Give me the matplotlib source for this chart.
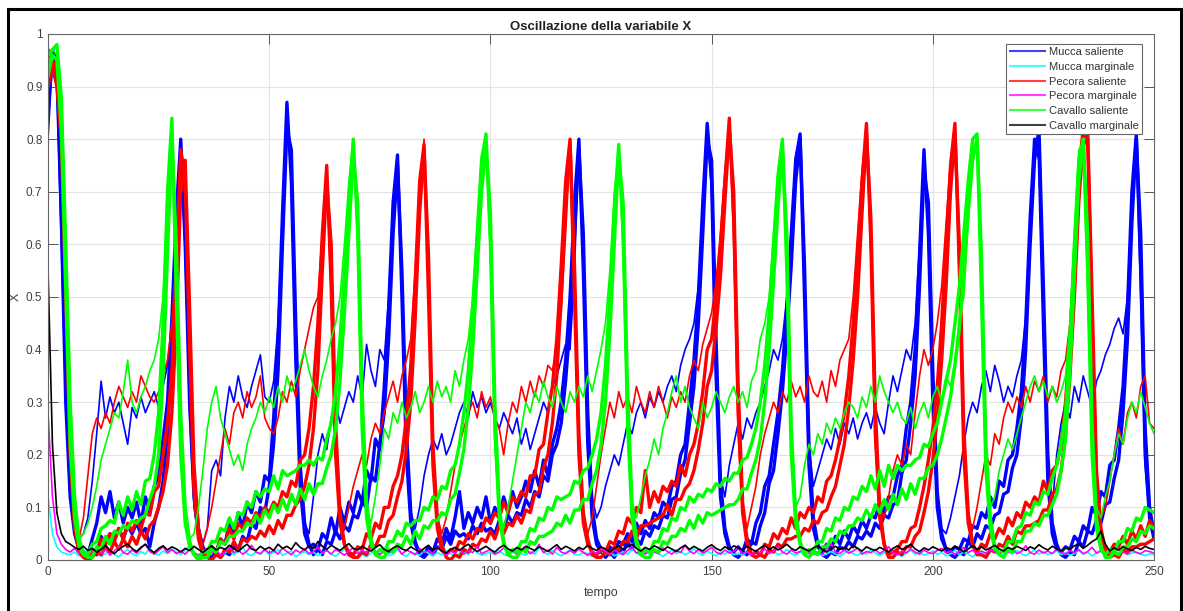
import numpy as np
import matplotlib
matplotlib.use("Agg")
import matplotlib.pyplot as plt
from matplotlib.lines import Line2D
from matplotlib.patches import Rectangle

plt.rcParams['font.family'] = ['Liberation Sans', 'DejaVu Sans']

# valori letti a passo 1 (t = 0..250)
mucca_sal_a = [
    0.93, 0.97, 0.95, 0.72, 0.38, 0.17, 0.07, 0.03, 0.015, 0.01,
    0.04, 0.07, 0.12, 0.09, 0.13, 0.08, 0.11, 0.07, 0.1, 0.08,
    0.11, 0.07, 0.12, 0.09, 0.14, 0.16, 0.23, 0.3, 0.46, 0.66,
    0.8, 0.6, 0.3, 0.12, 0.05, 0.02, 0.01, 0.025, 0.015, 0.04,
    0.03, 0.07, 0.05, 0.09, 0.06, 0.11, 0.09, 0.13, 0.11, 0.16,
    0.15, 0.27, 0.42, 0.66, 0.87, 0.72, 0.38, 0.14, 0.05, 0.025,
    0.03, 0.02, 0.05, 0.04, 0.08, 0.05, 0.1, 0.07, 0.11, 0.09,
    0.13, 0.11, 0.17, 0.15, 0.23, 0.21, 0.33, 0.48, 0.68, 0.77,
    0.5, 0.2, 0.07, 0.03, 0.015, 0.01, 0.025, 0.015, 0.04, 0.03,
    0.06, 0.04, 0.08, 0.13, 0.06, 0.09, 0.07, 0.1, 0.08, 0.12,
    0.07, 0.1, 0.08, 0.12, 0.09, 0.13, 0.1, 0.12, 0.15, 0.13,
    0.17, 0.14, 0.19, 0.16, 0.22, 0.25, 0.3, 0.38, 0.5, 0.68,
    0.8, 0.55, 0.22, 0.08, 0.03, 0.015, 0.01, 0.025, 0.015, 0.035,
    0.03, 0.05, 0.035, 0.07, 0.05, 0.075, 0.06, 0.09, 0.08, 0.11,
    0.1, 0.14, 0.15, 0.2, 0.22, 0.3, 0.38, 0.5, 0.68, 0.83,
    0.72, 0.35, 0.12, 0.05, 0.02, 0.015, 0.025, 0.015, 0.04, 0.03,
    0.07, 0.09, 0.14, 0.16, 0.22, 0.28, 0.36, 0.48, 0.62, 0.76,
    0.81, 0.5, 0.18, 0.06, 0.025, 0.015, 0.03, 0.02, 0.045, 0.03,
    0.055, 0.04, 0.065, 0.05, 0.075, 0.06, 0.085, 0.08, 0.11, 0.09,
    0.12, 0.12, 0.16, 0.18, 0.25, 0.3, 0.4, 0.58, 0.78, 0.62,
    0.3, 0.1, 0.04, 0.02, 0.015, 0.025, 0.02, 0.04, 0.035, 0.065,
    0.06, 0.09, 0.08, 0.12, 0.1, 0.15, 0.14, 0.19, 0.2, 0.25,
    0.32, 0.45, 0.65, 0.8, 0.78, 0.45, 0.15, 0.05, 0.02, 0.015,
    0.025, 0.02, 0.045, 0.035, 0.065, 0.055, 0.1, 0.085, 0.13, 0.12,
    0.18, 0.19, 0.25, 0.33, 0.48, 0.7, 0.81, 0.55, 0.2, 0.08,
    0.04]
mucca_sal_b = [
    0.85, 0.96, 0.93, 0.65, 0.3, 0.12, 0.05, 0.02, 0.01, 0.005,
    0.015, 0.01, 0.045, 0.03, 0.05, 0.04, 0.06, 0.04, 0.065, 0.05,
    0.07, 0.05, 0.06, 0.025, 0.07, 0.1, 0.15, 0.24, 0.4, 0.62,
    0.78, 0.66, 0.36, 0.15, 0.06, 0.025, 0.01, 0.005, 0.015, 0.005,
    0.015, 0.01, 0.025, 0.02, 0.045, 0.035, 0.07, 0.06, 0.1, 0.09,
    0.14, 0.22, 0.36, 0.6, 0.82, 0.78, 0.45, 0.18, 0.07, 0.03,
    0.01, 0.02, 0.01, 0.035, 0.03, 0.055, 0.04, 0.065, 0.055, 0.085,
    0.08, 0.11, 0.1, 0.16, 0.15, 0.22, 0.28, 0.42, 0.62, 0.75,
    0.55, 0.25, 0.09, 0.035, 0.01, 0.005, 0.015, 0.01, 0.025, 0.02,
    0.045, 0.03, 0.055, 0.045, 0.05, 0.04, 0.065, 0.05, 0.07, 0.055,
    0.06, 0.05, 0.075, 0.06, 0.085, 0.07, 0.09, 0.085, 0.115, 0.1,
    0.13, 0.12, 0.16, 0.15, 0.2, 0.22, 0.26, 0.34, 0.45, 0.62,
    0.78, 0.62, 0.28, 0.1, 0.04, 0.02, 0.005, 0.015, 0.005, 0.02,
    0.015, 0.035, 0.02, 0.04, 0.03, 0.055, 0.045, 0.065, 0.06, 0.085,
    0.08, 0.115, 0.12, 0.165, 0.19, 0.26, 0.33, 0.45, 0.62, 0.8,
    0.76, 0.42, 0.15, 0.06, 0.025, 0.01, 0.005, 0.015, 0.01, 0.035,
    0.03, 0.065, 0.09, 0.145, 0.17, 0.24, 0.32, 0.43, 0.56, 0.72,
    0.8, 0.56, 0.22, 0.08, 0.03, 0.01, 0.005, 0.015, 0.01, 0.025,
    0.02, 0.035, 0.025, 0.045, 0.04, 0.055, 0.045, 0.07, 0.06, 0.085,
    0.08, 0.105, 0.11, 0.165, 0.19, 0.26, 0.35, 0.52, 0.74, 0.68,
    0.36, 0.13, 0.05, 0.02, 0.01, 0.005, 0.015, 0.01, 0.035, 0.025,
    0.05, 0.04, 0.065, 0.06, 0.085, 0.09, 0.125, 0.13, 0.175, 0.2,
    0.27, 0.4, 0.6, 0.76, 0.82, 0.52, 0.2, 0.07, 0.03, 0.01,
    0.005, 0.015, 0.01, 0.035, 0.025, 0.055, 0.05, 0.075, 0.07, 0.105,
    0.11, 0.155, 0.19, 0.28, 0.42, 0.64, 0.8, 0.62, 0.25, 0.1,
    0.05]
mucca_sal_c = [
    0.8, 0.95, 0.9, 0.6, 0.3, 0.12, 0.06, 0.04, 0.05, 0.08,
    0.15, 0.24, 0.34, 0.27, 0.31, 0.28, 0.3, 0.26, 0.22, 0.29,
    0.27, 0.31, 0.28, 0.3, 0.32, 0.29, 0.33, 0.37, 0.45, 0.62,
    0.79, 0.58, 0.28, 0.1, 0.04, 0.03, 0.06, 0.17, 0.19, 0.16,
    0.27, 0.33, 0.3, 0.35, 0.31, 0.29, 0.33, 0.36, 0.39, 0.31,
    0.3, 0.34, 0.45, 0.65, 0.84, 0.74, 0.4, 0.15, 0.07, 0.05,
    0.12, 0.2, 0.24, 0.21, 0.27, 0.3, 0.26, 0.29, 0.32, 0.3,
    0.35, 0.31, 0.41, 0.36, 0.33, 0.4, 0.38, 0.5, 0.66, 0.76,
    0.52, 0.22, 0.09, 0.06, 0.1, 0.16, 0.2, 0.23, 0.21, 0.24,
    0.2, 0.22, 0.25, 0.28, 0.3, 0.27, 0.32, 0.29, 0.31, 0.28,
    0.3, 0.27, 0.25, 0.28, 0.26, 0.24, 0.27, 0.22, 0.25, 0.21,
    0.24, 0.27, 0.3, 0.28, 0.33, 0.35, 0.38, 0.41, 0.4, 0.55,
    0.79, 0.56, 0.25, 0.12, 0.08, 0.1, 0.14, 0.17, 0.2, 0.18,
    0.22, 0.26, 0.24, 0.28, 0.3, 0.27, 0.31, 0.29, 0.32, 0.3,
    0.33, 0.35, 0.32, 0.37, 0.4, 0.42, 0.45, 0.52, 0.66, 0.82,
    0.7, 0.36, 0.16, 0.12, 0.18, 0.22, 0.26, 0.23, 0.27, 0.25,
    0.28, 0.3, 0.33, 0.36, 0.4, 0.38, 0.42, 0.5, 0.62, 0.77,
    0.8, 0.52, 0.22, 0.14, 0.17, 0.2, 0.23, 0.21, 0.25, 0.22,
    0.26, 0.24, 0.27, 0.23, 0.26, 0.28, 0.25, 0.29, 0.26, 0.24,
    0.3, 0.35, 0.32, 0.36, 0.4, 0.38, 0.45, 0.6, 0.76, 0.65,
    0.32, 0.12, 0.06, 0.05, 0.08, 0.12, 0.16, 0.22, 0.27, 0.3,
    0.28, 0.33, 0.36, 0.32, 0.37, 0.34, 0.3, 0.33, 0.31, 0.35,
    0.38, 0.46, 0.63, 0.79, 0.76, 0.44, 0.16, 0.1, 0.2, 0.26,
    0.3, 0.27, 0.33, 0.3, 0.35, 0.32, 0.29, 0.34, 0.36, 0.39,
    0.41, 0.44, 0.46, 0.43, 0.5, 0.68, 0.78, 0.5, 0.18, 0.08,
    0.05]

pecora_sal_a = [
    0.97, 0.95, 0.93, 0.85, 0.55, 0.25, 0.08, 0.02, 0.01, 0.005,
    0.02, 0.015, 0.04, 0.03, 0.05, 0.035, 0.06, 0.04, 0.07, 0.055,
    0.075, 0.06, 0.09, 0.085, 0.13, 0.14, 0.2, 0.26, 0.36, 0.55,
    0.78, 0.72, 0.4, 0.13, 0.04, 0.01, 0.005, 0.02, 0.015, 0.04,
    0.03, 0.06, 0.04, 0.07, 0.06, 0.08, 0.07, 0.09, 0.08, 0.1,
    0.09, 0.11, 0.1, 0.13, 0.12, 0.15, 0.14, 0.19, 0.2, 0.25,
    0.33, 0.45, 0.62, 0.75, 0.52, 0.2, 0.07, 0.03, 0.015, 0.01,
    0.025, 0.02, 0.05, 0.04, 0.07, 0.06, 0.1, 0.1, 0.14, 0.16,
    0.2, 0.27, 0.37, 0.53, 0.72, 0.79, 0.5, 0.18, 0.06, 0.02,
    0.01, 0.02, 0.015, 0.035, 0.03, 0.05, 0.04, 0.06, 0.055, 0.08,
    0.07, 0.09, 0.08, 0.11, 0.09, 0.12, 0.11, 0.13, 0.12, 0.16,
    0.16, 0.21, 0.22, 0.28, 0.33, 0.42, 0.56, 0.72, 0.8, 0.5,
    0.2, 0.07, 0.03, 0.015, 0.01, 0.02, 0.015, 0.035, 0.03, 0.055,
    0.05, 0.08, 0.07, 0.1, 0.09, 0.17, 0.1, 0.13, 0.11, 0.14,
    0.13, 0.15, 0.14, 0.18, 0.16, 0.2, 0.22, 0.26, 0.32, 0.4,
    0.42, 0.5, 0.6, 0.72, 0.84, 0.65, 0.28, 0.09, 0.03, 0.01,
    0.015, 0.01, 0.03, 0.025, 0.05, 0.04, 0.06, 0.05, 0.08, 0.06,
    0.09, 0.08, 0.1, 0.09, 0.12, 0.11, 0.15, 0.16, 0.19, 0.23,
    0.28, 0.35, 0.45, 0.58, 0.72, 0.83, 0.6, 0.24, 0.08, 0.03,
    0.01, 0.015, 0.02, 0.035, 0.035, 0.06, 0.065, 0.1, 0.14, 0.19,
    0.25, 0.33, 0.45, 0.6, 0.75, 0.83, 0.55, 0.2, 0.07, 0.03,
    0.015, 0.03, 0.025, 0.05, 0.04, 0.06, 0.05, 0.08, 0.065, 0.09,
    0.08, 0.11, 0.1, 0.12, 0.11, 0.15, 0.13, 0.17, 0.18, 0.22,
    0.3, 0.42, 0.58, 0.74, 0.82, 0.8, 0.45, 0.14, 0.05, 0.02,
    0.015, 0.03, 0.025, 0.045, 0.03, 0.055, 0.04, 0.065, 0.045, 0.075,
    0.06]
pecora_sal_b = [
    0.9, 0.94, 0.9, 0.8, 0.5, 0.2, 0.06, 0.015, 0.005, 0.0,
    0.005, 0.015, 0.01, 0.025, 0.015, 0.035, 0.02, 0.04, 0.025, 0.045,
    0.03, 0.055, 0.04, 0.065, 0.075, 0.1, 0.13, 0.18, 0.28, 0.45,
    0.7, 0.76, 0.48, 0.18, 0.06, 0.015, 0.005, 0.0, 0.01, 0.005,
    0.02, 0.015, 0.035, 0.02, 0.04, 0.035, 0.045, 0.04, 0.055, 0.045,
    0.065, 0.05, 0.075, 0.06, 0.085, 0.085, 0.105, 0.115, 0.14, 0.18,
    0.25, 0.36, 0.55, 0.72, 0.6, 0.26, 0.09, 0.03, 0.01, 0.005,
    0.005, 0.015, 0.01, 0.03, 0.025, 0.045, 0.045, 0.075, 0.085, 0.12,
    0.15, 0.21, 0.3, 0.46, 0.66, 0.78, 0.58, 0.22, 0.08, 0.03,
    0.005, 0.0, 0.01, 0.005, 0.02, 0.015, 0.03, 0.025, 0.04, 0.035,
    0.055, 0.04, 0.065, 0.05, 0.07, 0.065, 0.085, 0.07, 0.095, 0.09,
    0.125, 0.13, 0.175, 0.2, 0.26, 0.35, 0.5, 0.68, 0.79, 0.56,
    0.24, 0.09, 0.04, 0.01, 0.005, 0.005, 0.015, 0.01, 0.025, 0.02,
    0.035, 0.035, 0.055, 0.04, 0.065, 0.065, 0.07, 0.075, 0.08, 0.085,
    0.105, 0.085, 0.115, 0.115, 0.135, 0.145, 0.17, 0.21, 0.26, 0.33,
    0.36, 0.44, 0.54, 0.68, 0.82, 0.7, 0.33, 0.11, 0.04, 0.01,
    0.005, 0.01, 0.005, 0.02, 0.015, 0.03, 0.025, 0.04, 0.04, 0.045,
    0.045, 0.06, 0.055, 0.075, 0.07, 0.09, 0.095, 0.12, 0.14, 0.18,
    0.22, 0.29, 0.38, 0.5, 0.66, 0.81, 0.65, 0.29, 0.1, 0.03,
    0.005, 0.005, 0.015, 0.01, 0.025, 0.025, 0.045, 0.055, 0.09, 0.13,
    0.19, 0.27, 0.38, 0.52, 0.7, 0.81, 0.6, 0.25, 0.09, 0.03,
    0.01, 0.01, 0.005, 0.02, 0.015, 0.03, 0.025, 0.045, 0.03, 0.055,
    0.05, 0.065, 0.065, 0.07, 0.075, 0.095, 0.095, 0.125, 0.135, 0.17,
    0.24, 0.35, 0.5, 0.68, 0.8, 0.82, 0.5, 0.17, 0.06, 0.02,
    0.005, 0.01, 0.005, 0.02, 0.015, 0.025, 0.025, 0.03, 0.03, 0.035,
    0.04]
pecora_sal_c = [
    0.95, 0.93, 0.9, 0.8, 0.5, 0.22, 0.07, 0.04, 0.08, 0.16,
    0.24, 0.27, 0.25, 0.28, 0.26, 0.3, 0.33, 0.31, 0.29, 0.32,
    0.3, 0.35, 0.33, 0.31, 0.3, 0.32, 0.35, 0.38, 0.45, 0.58,
    0.78, 0.74, 0.42, 0.15, 0.05, 0.03, 0.06, 0.1, 0.15, 0.2,
    0.25, 0.22, 0.28, 0.3, 0.27, 0.32, 0.29, 0.31, 0.35, 0.27,
    0.25, 0.24, 0.27, 0.32, 0.3, 0.34, 0.31, 0.36, 0.4, 0.44,
    0.48, 0.5, 0.62, 0.74, 0.5, 0.2, 0.08, 0.06, 0.1, 0.14,
    0.17, 0.2, 0.18, 0.23, 0.26, 0.24, 0.28, 0.31, 0.34, 0.3,
    0.35, 0.38, 0.42, 0.55, 0.7, 0.8, 0.52, 0.2, 0.08, 0.05,
    0.08, 0.13, 0.18, 0.22, 0.25, 0.28, 0.3, 0.27, 0.32, 0.29,
    0.31, 0.27, 0.25, 0.2, 0.26, 0.3, 0.28, 0.33, 0.3, 0.34,
    0.31, 0.35, 0.33, 0.37, 0.36, 0.4, 0.47, 0.62, 0.78, 0.52,
    0.2, 0.08, 0.05, 0.08, 0.14, 0.2, 0.25, 0.3, 0.27, 0.32,
    0.29, 0.31, 0.28, 0.33, 0.3, 0.28, 0.32, 0.29, 0.33, 0.3,
    0.27, 0.31, 0.29, 0.32, 0.3, 0.35, 0.38, 0.36, 0.41, 0.44,
    0.47, 0.53, 0.62, 0.74, 0.83, 0.6, 0.24, 0.09, 0.06, 0.1,
    0.14, 0.2, 0.24, 0.27, 0.3, 0.28, 0.32, 0.3, 0.34, 0.31,
    0.33, 0.3, 0.35, 0.32, 0.31, 0.34, 0.3, 0.36, 0.33, 0.38,
    0.4, 0.42, 0.5, 0.62, 0.74, 0.82, 0.58, 0.22, 0.1, 0.08,
    0.12, 0.17, 0.2, 0.18, 0.22, 0.2, 0.28, 0.35, 0.4, 0.37,
    0.4, 0.45, 0.52, 0.64, 0.76, 0.82, 0.52, 0.2, 0.08, 0.06,
    0.1, 0.15, 0.2, 0.18, 0.24, 0.22, 0.27, 0.3, 0.28, 0.31,
    0.29, 0.33, 0.3, 0.34, 0.32, 0.35, 0.3, 0.33, 0.31, 0.36,
    0.38, 0.45, 0.6, 0.75, 0.81, 0.78, 0.42, 0.15, 0.08, 0.1,
    0.15, 0.2, 0.25, 0.22, 0.28, 0.3, 0.27, 0.33, 0.35, 0.26,
    0.25]

cavallo_sal_a = [
    0.96, 0.97, 0.98, 0.88, 0.6, 0.3, 0.12, 0.04, 0.015, 0.01,
    0.03, 0.035, 0.06, 0.065, 0.075, 0.07, 0.11, 0.085, 0.12, 0.095,
    0.13, 0.105, 0.15, 0.155, 0.2, 0.28, 0.45, 0.7, 0.84, 0.5,
    0.2, 0.07, 0.025, 0.01, 0.005, 0.015, 0.015, 0.035, 0.035, 0.06,
    0.055, 0.08, 0.06, 0.09, 0.085, 0.11, 0.1, 0.13, 0.12, 0.135,
    0.13, 0.16, 0.135, 0.17, 0.16, 0.165, 0.17, 0.18, 0.18, 0.19,
    0.18, 0.195, 0.19, 0.23, 0.26, 0.32, 0.42, 0.55, 0.68, 0.8,
    0.62, 0.25, 0.08, 0.03, 0.01, 0.02, 0.015, 0.035, 0.035, 0.055,
    0.045, 0.07, 0.065, 0.075, 0.075, 0.1, 0.095, 0.12, 0.115, 0.14,
    0.135, 0.17, 0.18, 0.22, 0.28, 0.36, 0.48, 0.62, 0.76, 0.81,
    0.6, 0.25, 0.08, 0.03, 0.01, 0.02, 0.015, 0.035, 0.035, 0.06,
    0.055, 0.08, 0.075, 0.1, 0.095, 0.12, 0.115, 0.12, 0.125, 0.15,
    0.145, 0.17, 0.175, 0.2, 0.23, 0.28, 0.37, 0.5, 0.66, 0.79,
    0.62, 0.26, 0.08, 0.03, 0.01, 0.02, 0.015, 0.035, 0.035, 0.06,
    0.055, 0.08, 0.075, 0.1, 0.095, 0.12, 0.11, 0.125, 0.12, 0.135,
    0.13, 0.145, 0.14, 0.155, 0.15, 0.165, 0.165, 0.19, 0.195, 0.22,
    0.25, 0.3, 0.37, 0.47, 0.6, 0.73, 0.8, 0.55, 0.2, 0.07,
    0.03, 0.01, 0.02, 0.015, 0.035, 0.035, 0.06, 0.055, 0.08, 0.075,
    0.1, 0.095, 0.12, 0.115, 0.14, 0.13, 0.16, 0.135, 0.17, 0.14,
    0.18, 0.155, 0.18, 0.17, 0.18, 0.18, 0.19, 0.195, 0.22, 0.215,
    0.24, 0.26, 0.3, 0.34, 0.38, 0.45, 0.52, 0.62, 0.72, 0.8,
    0.81, 0.5, 0.17, 0.06, 0.02, 0.02, 0.015, 0.035, 0.035, 0.06,
    0.065, 0.09, 0.085, 0.11, 0.105, 0.13, 0.125, 0.155, 0.18, 0.22,
    0.28, 0.42, 0.6, 0.76, 0.8, 0.55, 0.2, 0.06, 0.02, 0.01,
    0.02, 0.015, 0.035, 0.035, 0.06, 0.055, 0.08, 0.075, 0.1, 0.095,
    0.09]
cavallo_sal_b = [
    0.92, 0.96, 0.95, 0.82, 0.52, 0.22, 0.08, 0.025, 0.01, 0.005,
    0.005, 0.025, 0.02, 0.045, 0.03, 0.055, 0.05, 0.065, 0.06, 0.075,
    0.07, 0.08, 0.085, 0.115, 0.14, 0.2, 0.35, 0.58, 0.8, 0.6,
    0.28, 0.1, 0.035, 0.01, 0.0, 0.005, 0.005, 0.02, 0.015, 0.035,
    0.03, 0.045, 0.045, 0.055, 0.055, 0.07, 0.065, 0.085, 0.07, 0.095,
    0.08, 0.105, 0.09, 0.115, 0.095, 0.125, 0.105, 0.135, 0.115, 0.145,
    0.125, 0.145, 0.145, 0.175, 0.2, 0.25, 0.34, 0.47, 0.62, 0.77,
    0.68, 0.32, 0.11, 0.04, 0.01, 0.005, 0.005, 0.02, 0.015, 0.03,
    0.025, 0.045, 0.03, 0.055, 0.04, 0.065, 0.06, 0.075, 0.075, 0.09,
    0.085, 0.115, 0.125, 0.165, 0.21, 0.29, 0.4, 0.55, 0.7, 0.79,
    0.66, 0.3, 0.1, 0.035, 0.01, 0.005, 0.005, 0.02, 0.015, 0.035,
    0.03, 0.045, 0.045, 0.05, 0.055, 0.07, 0.065, 0.085, 0.07, 0.095,
    0.095, 0.115, 0.115, 0.145, 0.17, 0.22, 0.3, 0.43, 0.6, 0.77,
    0.68, 0.32, 0.11, 0.04, 0.01, 0.005, 0.005, 0.02, 0.015, 0.035,
    0.03, 0.045, 0.045, 0.06, 0.055, 0.075, 0.06, 0.085, 0.07, 0.09,
    0.085, 0.09, 0.095, 0.1, 0.105, 0.105, 0.115, 0.135, 0.135, 0.165,
    0.19, 0.23, 0.3, 0.4, 0.53, 0.67, 0.78, 0.62, 0.25, 0.09,
    0.035, 0.01, 0.005, 0.015, 0.01, 0.025, 0.025, 0.04, 0.035, 0.055,
    0.05, 0.065, 0.065, 0.08, 0.075, 0.095, 0.08, 0.105, 0.09, 0.115,
    0.095, 0.125, 0.105, 0.135, 0.115, 0.145, 0.125, 0.155, 0.155, 0.175,
    0.18, 0.2, 0.23, 0.27, 0.31, 0.37, 0.44, 0.55, 0.66, 0.76,
    0.8, 0.58, 0.22, 0.08, 0.025, 0.01, 0.005, 0.02, 0.015, 0.035,
    0.035, 0.055, 0.055, 0.07, 0.065, 0.085, 0.085, 0.105, 0.125, 0.17,
    0.23, 0.36, 0.54, 0.72, 0.8, 0.62, 0.26, 0.08, 0.025, 0.005,
    0.005, 0.015, 0.01, 0.025, 0.025, 0.04, 0.035, 0.055, 0.05, 0.065,
    0.06]
cavallo_sal_c = [
    0.94, 0.97, 0.96, 0.85, 0.55, 0.25, 0.09, 0.04, 0.05, 0.07,
    0.1, 0.14, 0.19, 0.22, 0.25, 0.28, 0.27, 0.32, 0.38, 0.3,
    0.28, 0.31, 0.33, 0.36, 0.38, 0.42, 0.5, 0.66, 0.82, 0.55,
    0.22, 0.08, 0.04, 0.05, 0.1, 0.17, 0.25, 0.3, 0.33, 0.27,
    0.24, 0.21, 0.18, 0.2, 0.17, 0.22, 0.25, 0.27, 0.3, 0.28,
    0.31, 0.29, 0.33, 0.3, 0.35, 0.32, 0.34, 0.37, 0.4, 0.36,
    0.33, 0.31, 0.35, 0.38, 0.42, 0.45, 0.5, 0.6, 0.72, 0.8,
    0.6, 0.24, 0.1, 0.07, 0.12, 0.18, 0.25, 0.23, 0.28, 0.26,
    0.3, 0.27, 0.29, 0.32, 0.28, 0.3, 0.33, 0.3, 0.34, 0.31,
    0.33, 0.3, 0.36, 0.33, 0.38, 0.42, 0.5, 0.63, 0.77, 0.8,
    0.58, 0.22, 0.09, 0.06, 0.1, 0.15, 0.2, 0.25, 0.3, 0.28,
    0.32, 0.3, 0.34, 0.31, 0.29, 0.33, 0.3, 0.28, 0.32, 0.3,
    0.33, 0.31, 0.35, 0.32, 0.36, 0.4, 0.45, 0.55, 0.7, 0.78,
    0.58, 0.24, 0.1, 0.08, 0.12, 0.16, 0.19, 0.23, 0.2, 0.25,
    0.28, 0.32, 0.35, 0.3, 0.33, 0.29, 0.27, 0.25, 0.3, 0.27,
    0.29, 0.32, 0.3, 0.28, 0.31, 0.33, 0.3, 0.32, 0.29, 0.34,
    0.36, 0.42, 0.45, 0.5, 0.62, 0.74, 0.79, 0.58, 0.22, 0.1,
    0.12, 0.18, 0.22, 0.2, 0.24, 0.22, 0.26, 0.24, 0.27, 0.25,
    0.28, 0.3, 0.29, 0.27, 0.31, 0.29, 0.33, 0.3, 0.35, 0.32,
    0.3, 0.28, 0.3, 0.27, 0.26, 0.29, 0.25, 0.28, 0.3, 0.27,
    0.31, 0.33, 0.3, 0.35, 0.33, 0.38, 0.46, 0.5, 0.64, 0.78,
    0.8, 0.52, 0.2, 0.1, 0.12, 0.17, 0.2, 0.23, 0.21, 0.24,
    0.27, 0.3, 0.33, 0.35, 0.32, 0.34, 0.31, 0.33, 0.3, 0.32,
    0.35, 0.45, 0.62, 0.78, 0.79, 0.52, 0.2, 0.1, 0.08, 0.12,
    0.15, 0.2, 0.24, 0.22, 0.27, 0.3, 0.28, 0.32, 0.29, 0.26,
    0.24]

mucca_marg = [
    0.12, 0.05, 0.025, 0.015, 0.012, 0.01, 0.015, 0.008, 0.012, 0.02,
    0.01, 0.015, 0.007, 0.012, 0.018, 0.01, 0.006, 0.014, 0.02, 0.012,
    0.008, 0.016, 0.011, 0.022, 0.013, 0.009, 0.017, 0.012, 0.02, 0.015,
    0.01, 0.018, 0.028, 0.014, 0.009, 0.015, 0.012, 0.02, 0.011, 0.007,
    0.013, 0.019, 0.01, 0.016, 0.024, 0.012, 0.008, 0.015, 0.011, 0.018,
    0.01, 0.014, 0.02, 0.009, 0.013, 0.017, 0.006, 0.012, 0.016, 0.01,
    0.015, 0.008, 0.013, 0.019, 0.011, 0.007, 0.014, 0.021, 0.012, 0.009,
    0.016, 0.011, 0.006, 0.013, 0.018, 0.01, 0.015, 0.008, 0.012, 0.02,
    0.011, 0.007, 0.015, 0.012, 0.009, 0.017, 0.013, 0.008, 0.014, 0.01,
    0.018, 0.012, 0.007, 0.013, 0.016, 0.01, 0.022, 0.014, 0.009, 0.012,
    0.015, 0.01, 0.017, 0.011, 0.008, 0.014, 0.02, 0.012, 0.009, 0.016,
    0.011, 0.024, 0.015, 0.01, 0.018, 0.012, 0.008, 0.014, 0.019, 0.011,
    0.009, 0.015, 0.012, 0.007, 0.013, 0.017, 0.01, 0.014, 0.008, 0.012,
    0.016, 0.011, 0.02, 0.013, 0.009, 0.015, 0.011, 0.018, 0.012, 0.007,
    0.013, 0.019, 0.012, 0.016, 0.01, 0.014, 0.022, 0.013, 0.009, 0.017,
    0.012, 0.008, 0.015, 0.011, 0.018, 0.01, 0.013, 0.009, 0.016, 0.012,
    0.019, 0.011, 0.008, 0.014, 0.017, 0.01, 0.013, 0.02, 0.012, 0.009,
    0.015, 0.011, 0.017, 0.01, 0.014, 0.008, 0.012, 0.016, 0.011, 0.007,
    0.013, 0.018, 0.012, 0.009, 0.015, 0.011, 0.02, 0.013, 0.008, 0.014,
    0.01, 0.016, 0.012, 0.007, 0.013, 0.019, 0.011, 0.015, 0.009, 0.012,
    0.017, 0.011, 0.014, 0.008, 0.012, 0.018, 0.01, 0.015, 0.011, 0.006,
    0.013, 0.016, 0.01, 0.014, 0.021, 0.012, 0.009, 0.015, 0.011, 0.018,
    0.012, 0.008, 0.014, 0.019, 0.011, 0.016, 0.01, 0.013, 0.017, 0.01,
    0.014, 0.009, 0.012, 0.018, 0.011, 0.015, 0.008, 0.013, 0.016, 0.011,
    0.009, 0.014, 0.012, 0.017, 0.01, 0.013, 0.015, 0.011, 0.008, 0.012,
    0.01]
pecora_marg = [
    0.28, 0.12, 0.05, 0.03, 0.02, 0.015, 0.022, 0.012, 0.018, 0.01,
    0.016, 0.024, 0.012, 0.02, 0.009, 0.017, 0.026, 0.014, 0.011, 0.019,
    0.013, 0.022, 0.03, 0.016, 0.011, 0.018, 0.025, 0.014, 0.02, 0.012,
    0.017, 0.011, 0.02, 0.014, 0.009, 0.016, 0.022, 0.013, 0.018, 0.01,
    0.015, 0.024, 0.014, 0.019, 0.011, 0.017, 0.028, 0.015, 0.012, 0.02,
    0.013, 0.018, 0.011, 0.023, 0.016, 0.01, 0.019, 0.014, 0.021, 0.012,
    0.016, 0.025, 0.013, 0.018, 0.011, 0.02, 0.015, 0.009, 0.017, 0.023,
    0.012, 0.018, 0.014, 0.027, 0.016, 0.01, 0.02, 0.013, 0.017, 0.024,
    0.011, 0.019, 0.015, 0.01, 0.022, 0.014, 0.018, 0.012, 0.025, 0.016,
    0.009, 0.017, 0.013, 0.021, 0.011, 0.018, 0.014, 0.026, 0.012, 0.016,
    0.02, 0.011, 0.015, 0.023, 0.013, 0.018, 0.01, 0.016, 0.022, 0.012,
    0.017, 0.03, 0.014, 0.019, 0.011, 0.024, 0.015, 0.012, 0.018, 0.013,
    0.021, 0.014, 0.009, 0.017, 0.012, 0.022, 0.016, 0.011, 0.019, 0.014,
    0.01, 0.018, 0.025, 0.013, 0.017, 0.011, 0.02, 0.015, 0.012, 0.023,
    0.016, 0.011, 0.019, 0.014, 0.028, 0.017, 0.012, 0.02, 0.013, 0.018,
    0.024, 0.015, 0.011, 0.019, 0.013, 0.017, 0.022, 0.012, 0.016, 0.01,
    0.018, 0.014, 0.021, 0.012, 0.017, 0.026, 0.015, 0.011, 0.019, 0.013,
    0.016, 0.022, 0.012, 0.018, 0.014, 0.011, 0.02, 0.031, 0.015, 0.012,
    0.019, 0.013, 0.017, 0.023, 0.011, 0.016, 0.014, 0.02, 0.012, 0.018,
    0.025, 0.014, 0.01, 0.017, 0.013, 0.021, 0.015, 0.011, 0.019, 0.014,
    0.012, 0.018, 0.022, 0.013, 0.017, 0.011, 0.016, 0.024, 0.014, 0.019,
    0.012, 0.017, 0.013, 0.02, 0.015, 0.011, 0.018, 0.014, 0.022, 0.012,
    0.016, 0.027, 0.014, 0.011, 0.019, 0.013, 0.017, 0.012, 0.021, 0.015,
    0.011, 0.018, 0.014, 0.02, 0.012, 0.016, 0.024, 0.013, 0.018, 0.011,
    0.017, 0.013, 0.021, 0.015, 0.011, 0.019, 0.014, 0.012, 0.018, 0.016,
    0.013]
cavallo_marg = [
    0.55, 0.22, 0.09, 0.05, 0.035, 0.03, 0.024, 0.02, 0.026, 0.018,
    0.022, 0.015, 0.02, 0.028, 0.018, 0.012, 0.02, 0.026, 0.03, 0.022,
    0.016, 0.024, 0.03, 0.02, 0.014, 0.022, 0.027, 0.019, 0.025, 0.021,
    0.015, 0.022, 0.018, 0.026, 0.02, 0.014, 0.021, 0.027, 0.019, 0.024,
    0.02, 0.028, 0.022, 0.016, 0.024, 0.03, 0.021, 0.018, 0.026, 0.02,
    0.024, 0.018, 0.03, 0.022, 0.026, 0.02, 0.033, 0.024, 0.019, 0.027,
    0.022, 0.035, 0.026, 0.02, 0.028, 0.023, 0.018, 0.025, 0.031, 0.022,
    0.019, 0.026, 0.021, 0.017, 0.024, 0.029, 0.02, 0.016, 0.023, 0.027,
    0.021, 0.018, 0.025, 0.02, 0.015, 0.022, 0.028, 0.019, 0.024, 0.017,
    0.013, 0.02, 0.024, 0.018, 0.025, 0.03, 0.022, 0.016, 0.021, 0.026,
    0.02, 0.015, 0.023, 0.028, 0.021, 0.017, 0.024, 0.019, 0.026, 0.022,
    0.018, 0.025, 0.021, 0.016, 0.023, 0.029, 0.02, 0.026, 0.022, 0.017,
    0.024, 0.02, 0.028, 0.022, 0.018, 0.025, 0.021, 0.015, 0.022, 0.027,
    0.02, 0.025, 0.03, 0.022, 0.017, 0.024, 0.02, 0.027, 0.023, 0.018,
    0.025, 0.021, 0.016, 0.023, 0.028, 0.02, 0.026, 0.021, 0.017, 0.024,
    0.029, 0.022, 0.018, 0.025, 0.02, 0.027, 0.023, 0.019, 0.026, 0.021,
    0.016, 0.023, 0.028, 0.02, 0.025, 0.019, 0.024, 0.03, 0.022, 0.018,
    0.025, 0.021, 0.017, 0.023, 0.027, 0.02, 0.015, 0.022, 0.026, 0.02,
    0.024, 0.019, 0.028, 0.022, 0.017, 0.025, 0.021, 0.018, 0.024, 0.02,
    0.015, 0.022, 0.027, 0.02, 0.024, 0.03, 0.021, 0.016, 0.023, 0.019,
    0.025, 0.021, 0.017, 0.024, 0.02, 0.026, 0.022, 0.015, 0.021, 0.027,
    0.02, 0.025, 0.019, 0.023, 0.028, 0.021, 0.017, 0.024, 0.02, 0.026,
    0.022, 0.018, 0.025, 0.021, 0.029, 0.023, 0.019, 0.026, 0.021, 0.017,
    0.024, 0.02, 0.027, 0.03, 0.022, 0.028, 0.035, 0.04, 0.055, 0.03,
    0.017, 0.023, 0.019, 0.025, 0.021, 0.018, 0.024, 0.02, 0.026, 0.022,
    0.02]

etichette = ['Mucca saliente', 'Mucca marginale', 'Pecora saliente',
             'Pecora marginale', 'Cavallo saliente', 'Cavallo marginale']
colori = ['#0000ff', '#00ffff', '#ff0000', '#ff00ff', '#00ff00', '#000000']

gruppi = [
    ([mucca_sal_a, mucca_sal_b], mucca_sal_c, colori[0]),
    ([], mucca_marg, colori[1]),
    ([pecora_sal_a, pecora_sal_b], pecora_sal_c, colori[2]),
    ([], pecora_marg, colori[3]),
    ([cavallo_sal_a, cavallo_sal_b], cavallo_sal_c, colori[4]),
    ([], cavallo_marg, colori[5]),
]

fig = plt.figure(figsize=(11.83, 6.11), dpi=100)
ax = fig.add_axes([0.0406, 0.0835, 0.9349, 0.8609])

for fascio, singola, col in gruppi:
    for y in fascio:
        ax.plot(np.arange(len(y)), y, color=col, lw=2.4)
    ax.plot(np.arange(len(singola)), singola, color=col, lw=1.2)

ax.set_xlim(0, 250)
ax.set_ylim(0, 1)
ax.set_xticks(np.arange(0, 251, 50))
ax.set_yticks(np.arange(0, 1.01, 0.1))
ax.set_yticklabels(['0', '0.1', '0.2', '0.3', '0.4', '0.5', '0.6', '0.7', '0.8', '0.9', '1'])
ax.grid(True, color='#e3e3e3', lw=0.8)
ax.set_axisbelow(True)
ax.tick_params(direction='in', top=True, right=True, length=7, width=0.6,
               labelsize=8.5, colors='#404040', pad=4)
for s in ax.spines.values():
    s.set_color('#666666')
    s.set_linewidth(0.8)

ax.set_title('Oscillazione della variabile X', fontsize=9.5, fontweight='bold',
             color='#222222', pad=3)
ax.set_xlabel('tempo', fontsize=9, color='#404040', labelpad=7)
ax.set_ylabel('X', fontsize=9, color='#404040', labelpad=3)

maniglie = [Line2D([0], [0], color=c, lw=1.5, alpha=0.75) for c in colori]
leg = ax.legend(maniglie, etichette, loc='upper right', bbox_to_anchor=(0.989, 0.981),
                fontsize=8, frameon=True, fancybox=False, framealpha=1,
                handlelength=3.2, handletextpad=0.3, labelspacing=0.42,
                borderpad=0.3, borderaxespad=0)
leg.get_frame().set_edgecolor('#666666')
leg.get_frame().set_linewidth(0.8)
for tx in leg.get_texts():
    tx.set_color('#333333')

# cornice nera della figura
fig.patches.append(Rectangle((8 / 1183, -0.01), 1173 / 1183, 1 - 9 / 611 + 0.01,
                             transform=fig.transFigure, fill=False,
                             edgecolor='black', lw=2.2))

fig.savefig('out.png', dpi=100)
